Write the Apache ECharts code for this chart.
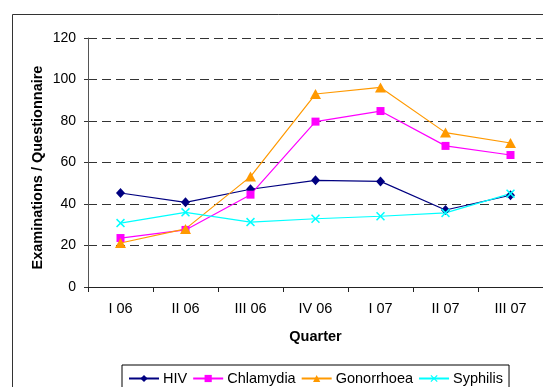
<!DOCTYPE html>
<html>
<head>
<meta charset="utf-8">
<style>
  html, body { margin: 0; padding: 0; background: #fff; }
  #chart { width: 543px; height: 387px; }
</style>
<script src="https://cdn.jsdelivr.net/npm/echarts@6/dist/echarts.min.js"></script>
</head>
<body>
<div id="chart"></div>
<script>
// Quarterly examinations per questionnaire, by infection
var quarters = ['I 06', 'II 06', 'III 06', 'IV 06', 'I 07', 'II 07', 'III 07'];
var hiv = [45.3, 40.8, 47.1, 51.4, 50.9, 37.1, 44.2];
var chlamydia = [23.6, 27.5, 44.5, 79.7, 84.8, 68.0, 63.6];
var gonorrhoea = [21.2, 28.0, 53.2, 93.0, 96.2, 74.4, 69.4];
var syphilis = [30.8, 36.0, 31.3, 32.9, 34.1, 35.7, 45.0];
var yTicks = { min: 0, max: 120, step: 20 };

var FONT = "'Liberation Sans', Arial, sans-serif";
// thin "x" cross marker
var CROSS = 'path://M0,1.2L1.2,0L5,3.8L8.8,0L10,1.2L6.2,5L10,8.8L8.8,10L5,6.2L1.2,10L0,8.8L3.8,5Z';

function lineSeries(name, data, color, symbol, size) {
  return {
    name: name,
    type: 'line',
    data: data,
    symbol: symbol,
    symbolSize: size,
    showAllSymbol: true,
    lineStyle: { color: color, width: 1.2 },
    itemStyle: { color: color, borderWidth: 0 },
    emphasis: { disabled: true }
  };
}

var chart = echarts.init(document.getElementById('chart'), null, { renderer: 'canvas' });
chart.setOption({
  animation: false,
  backgroundColor: '#fff',
  textStyle: { fontFamily: FONT },
  graphic: [{
    type: 'rect',
    shape: { x: 12.5, y: 14.5, width: 600, height: 420 },
    style: { fill: null, stroke: '#333', lineWidth: 1 },
    silent: true,
    z: -10
  }],
  grid: { left: 88, top: 38, width: 457, height: 249, containLabel: false },
  legend: {
    left: 122,
    top: 365,
    padding: [6, 6, 10, 6],
    itemGap: 5,
    itemWidth: 30,
    itemHeight: 9,
    borderColor: '#000',
    borderWidth: 1,
    textStyle: { fontFamily: FONT, fontSize: 14.5, color: '#000', padding: [0, 0, 0, -1] },
    data: ['HIV', 'Chlamydia', 'Gonorrhoea', 'Syphilis']
  },
  xAxis: {
    type: 'category',
    data: quarters,
    boundaryGap: true,
    name: 'Quarter',
    nameLocation: 'middle',
    nameGap: 42,
    nameMoveOverlap: false,
    nameTextStyle: { fontFamily: FONT, fontSize: 14.5, fontWeight: 'bold', color: '#000' },
    axisLine: { lineStyle: { color: '#222', width: 1 } },
    axisTick: { show: true, interval: 0, length: 5, lineStyle: { color: '#222' } },
    axisLabel: { interval: 0, margin: 14, fontFamily: FONT, fontSize: 14.5, color: '#000' },
    splitLine: { show: false }
  },
  yAxis: {
    type: 'value',
    min: yTicks.min,
    max: yTicks.max,
    interval: yTicks.step,
    name: 'Examinations / Questionnaire',
    nameLocation: 'middle',
    nameRotate: 90,
    nameGap: 43,
    nameMoveOverlap: false,
    nameTextStyle: { fontFamily: FONT, fontSize: 14.5, fontWeight: 'bold', color: '#000', padding: [0, 10, 0, 0] },
    axisLine: { show: true, lineStyle: { color: '#555', width: 1 } },
    axisTick: { show: true, length: 4, lineStyle: { color: '#333' } },
    axisLabel: { margin: 12, fontFamily: FONT, fontSize: 14, color: '#000' },
    splitLine: { show: true, lineStyle: { color: '#333', width: 1, type: [9, 5] } }
  },
  series: [
    lineSeries('HIV', hiv, '#000080', 'diamond', [9, 10]),
    lineSeries('Chlamydia', chlamydia, '#FF00FF', 'rect', 8),
    lineSeries('Gonorrhoea', gonorrhoea, '#FF9900', 'triangle', [11, 10]),
    lineSeries('Syphilis', syphilis, '#00FFFF', CROSS, 9)
  ]
});
</script>
</body>
</html>
